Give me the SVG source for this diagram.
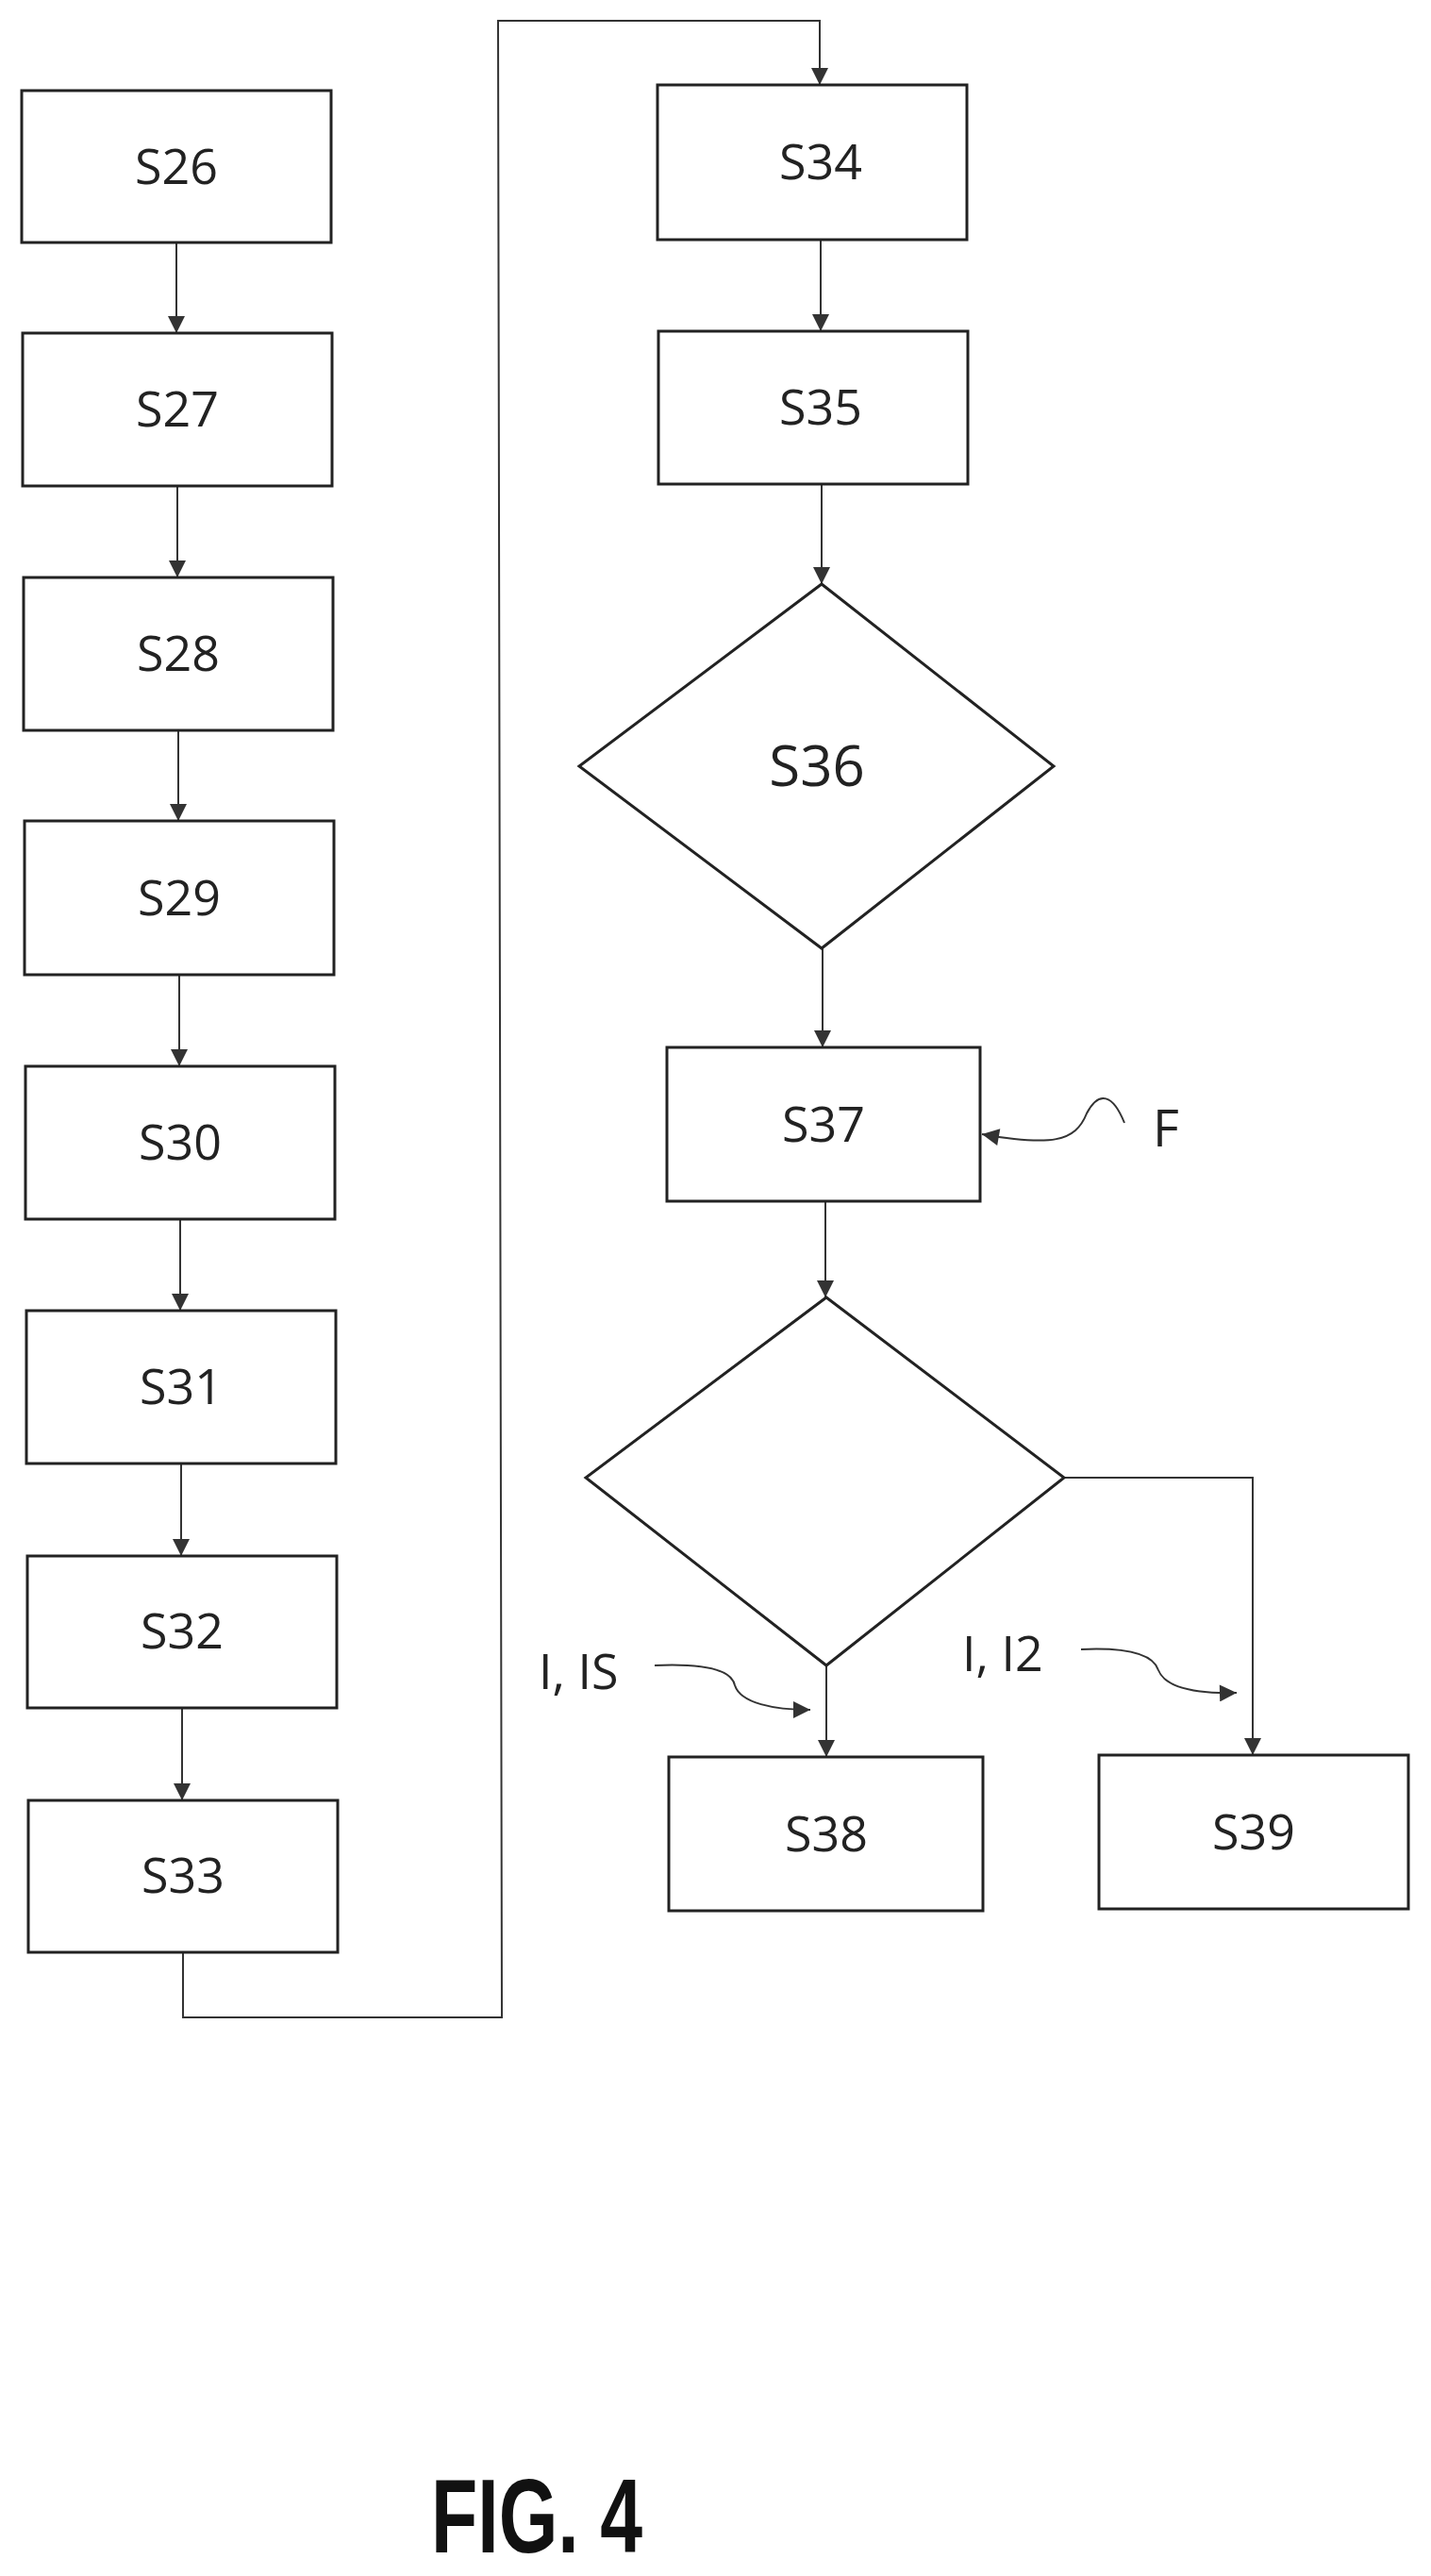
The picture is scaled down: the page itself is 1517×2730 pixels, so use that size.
<svg xmlns="http://www.w3.org/2000/svg" width="1517" height="2730" viewBox="0 0 1517 2730">
<style>
.b{fill:#fff;stroke:#222;stroke-width:3}
.t{font-family:"Open Sans",sans-serif;font-size:52px;fill:#222;text-anchor:middle}
.c{fill:none;stroke:#333;stroke-width:2}
</style>
<defs><marker id="a" viewBox="0 0 10 10" refX="10" refY="5" markerWidth="20" markerHeight="18" markerUnits="userSpaceOnUse" orient="auto"><path d="M0,0L10,5L0,10z" fill="#333"/></marker></defs>
<rect width="1517" height="2730" fill="#fff"/>
<g id="connectors" class="c">
<line x1="187" y1="257" x2="187" y2="353" marker-end="url(#a)"/>
<line x1="188" y1="515" x2="188" y2="612" marker-end="url(#a)"/>
<line x1="189" y1="774" x2="189" y2="870" marker-end="url(#a)"/>
<line x1="190" y1="1033" x2="190" y2="1130" marker-end="url(#a)"/>
<line x1="191" y1="1292" x2="191" y2="1389" marker-end="url(#a)"/>
<line x1="192" y1="1551" x2="192" y2="1649" marker-end="url(#a)"/>
<line x1="193" y1="1810" x2="193" y2="1908" marker-end="url(#a)"/>
<polyline points="194,2069 194,2138 532,2138 528,22 869,22 869,90" marker-end="url(#a)"/>
<line x1="870" y1="254" x2="870" y2="351" marker-end="url(#a)"/>
<line x1="871" y1="513" x2="871" y2="619" marker-end="url(#a)"/>
<line x1="872" y1="1005" x2="872" y2="1110" marker-end="url(#a)"/>
<line x1="875" y1="1273" x2="875" y2="1375" marker-end="url(#a)"/>
<line x1="876" y1="1765" x2="876" y2="1862" marker-end="url(#a)"/>
<polyline points="1128,1566 1328,1566 1328,1860" marker-end="url(#a)"/>
<path d="M1192,1190 C1180,1160 1165,1155 1152,1180 C1140,1210 1115,1215 1041,1202" marker-end="url(#a)"/>
<path d="M694,1765 C740,1763 775,1768 779,1786 C785,1805 820,1812 859,1812" marker-end="url(#a)"/>
<path d="M1146,1748 C1190,1746 1222,1752 1228,1770 C1236,1790 1270,1795 1311,1794" marker-end="url(#a)"/>
</g>
<g id="S26"><rect class="b" x="23" y="96" width="328" height="161"/><text class="t" x="187" y="195">S26</text></g>
<g id="S27"><rect class="b" x="24" y="353" width="328" height="162"/><text class="t" x="188" y="452">S27</text></g>
<g id="S28"><rect class="b" x="25" y="612" width="328" height="162"/><text class="t" x="189" y="711">S28</text></g>
<g id="S29"><rect class="b" x="26" y="870" width="328" height="163"/><text class="t" x="190" y="970">S29</text></g>
<g id="S30"><rect class="b" x="27" y="1130" width="328" height="162"/><text class="t" x="191" y="1229">S30</text></g>
<g id="S31"><rect class="b" x="28" y="1389" width="328" height="162"/><text class="t" x="192" y="1488">S31</text></g>
<g id="S32"><rect class="b" x="29" y="1649" width="328" height="161"/><text class="t" x="193" y="1747">S32</text></g>
<g id="S33"><rect class="b" x="30" y="1908" width="328" height="161"/><text class="t" x="194" y="2006">S33</text></g>
<g id="S34"><rect class="b" x="697" y="90" width="328" height="164"/><text class="t" x="870" y="190">S34</text></g>
<g id="S35"><rect class="b" x="698" y="351" width="328" height="162"/><text class="t" x="870" y="450">S35</text></g>
<g id="S36"><polygon class="b" points="871,619 1117,812 871,1005 614,812"/><text class="t" x="866" y="833" style="font-size:60px">S36</text></g>
<g id="S37"><rect class="b" x="707" y="1110" width="332" height="163"/><text class="t" x="873" y="1210">S37</text></g>
<g id="D2"><polygon class="b" points="876,1375 1128,1566 876,1765 621,1566"/></g>
<g id="S38"><rect class="b" x="709" y="1862" width="333" height="163"/><text class="t" x="876" y="1962">S38</text></g>
<g id="S39"><rect class="b" x="1165" y="1860" width="328" height="163"/><text class="t" x="1329" y="1960">S39</text></g>
<text class="t" x="1222" y="1215" style="font-size:54px;text-anchor:start">F</text>
<text class="t" x="571" y="1790" style="text-anchor:start">I, IS</text>
<text class="t" x="1020" y="1771" style="text-anchor:start">I, I2</text>
<text x="457" y="2705" font-family="Liberation Sans, sans-serif" font-weight="bold" font-size="112" fill="#111" textLength="224" lengthAdjust="spacingAndGlyphs">FIG. 4</text>
</svg>
